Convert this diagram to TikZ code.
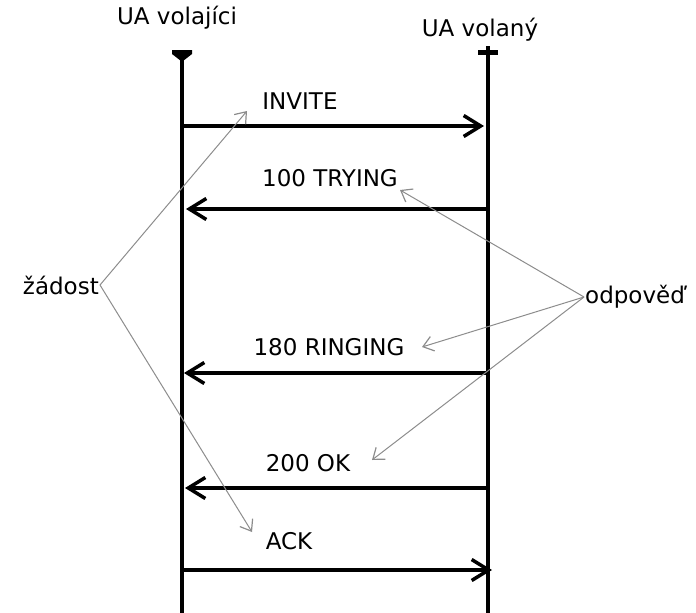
\documentclass[tikz,border=0pt]{standalone}
\usepackage{fontspec}
\setmainfont{DejaVu Sans}
\usetikzlibrary{calc, positioning}
\usetikzlibrary{arrows.meta}

\tikzset{
  lifeline/.style={line width=3.2pt},
  msg/.style={line width=3.2pt, -{Straight Barb[length=17pt, width=21pt, line width=3.5pt]}},
  note/.style={gray!90, line width=1pt, -{Straight Barb[length=10pt, width=15pt, line width=1.2pt]}},
  lbl/.style={font=\fontsize{23}{27}\selectfont, inner sep=1pt}
}

\begin{document}
\begin{tikzpicture}[x=1pt, y=-1pt]
\pgfmathsetmacro{\xL}{182}
\pgfmathsetmacro{\xR}{488}
\useasboundingbox (0,0) rectangle (696,613);

% lifelines
\coordinate (Ltop) at (\xL,50);
\coordinate (Lbot) at (\xL,613);
\coordinate (Rtop) at (\xR,46);
\coordinate (Rbot) at (\xR,613);
\draw[lifeline] (Ltop) -- (Lbot);
\draw[lifeline] (Rtop) -- (Rbot);
\fill ($(Ltop)+(-10,0)$) -- ($(Ltop)+(10,0)$) -- ($(Ltop)+(10,4)$)
  -- ($(Ltop)+(1,11)$) -- ($(Ltop)+(-1,11)$) -- ($(Ltop)+(-10,4)$) -- cycle;
\fill ($(Rtop)+(-10,4)$) rectangle ($(Rtop)+(10,9)$);

\node[lbl] (caller) at (177,18) {UA volajíci};
\node[lbl] (callee) at (480,30) {UA volaný};

% messages
\coordinate (invA) at (\xL,126);
\coordinate (invB) at (\xR-4,126);
\coordinate (tryA) at (\xR,209);
\coordinate (tryB) at (\xL+4,209);
\coordinate (ringA) at (\xR,373);
\coordinate (ringB) at (\xL+2,373);
\coordinate (okA) at (\xR,488);
\coordinate (okB) at (\xL+3,488);
\coordinate (ackA) at (\xL,570);
\coordinate (ackB) at (\xR+4,570);

\draw[msg] (invA) -- (invB);
\draw[msg] (tryA) -- (tryB);
\draw[msg] (ringA) -- (ringB);
\draw[msg] (okA) -- (okB);
\draw[msg] (ackA) -- (ackB);

\node[lbl] (invite) at (300,101) {INVITE};
\node[lbl] (trying) at (330,178) {100 TRYING};
\node[lbl] (ringing) at (329,347) {180 RINGING};
\node[lbl] (ok) at (308,463) {200 OK};
\node[lbl] (ack) at (289,541) {ACK};

% annotations
\node[lbl, anchor=east] (req) at (100,285) {žádost};
\node[lbl, anchor=west] (resp) at (584,297) {odpověď};

\coordinate (reqInv) at (247,111);
\coordinate (reqAck) at (252,532);
\coordinate (respTry) at (400,190);
\coordinate (respRing) at (422,347);
\coordinate (respOk) at (372,460);

\draw[note] (req.east) -- (reqInv);
\draw[note] (req.east) -- (reqAck);
\draw[note] (resp.west) -- (respTry);
\draw[note] (resp.west) -- (respRing);
\draw[note] (resp.west) -- (respOk);
\end{tikzpicture}
\end{document}
